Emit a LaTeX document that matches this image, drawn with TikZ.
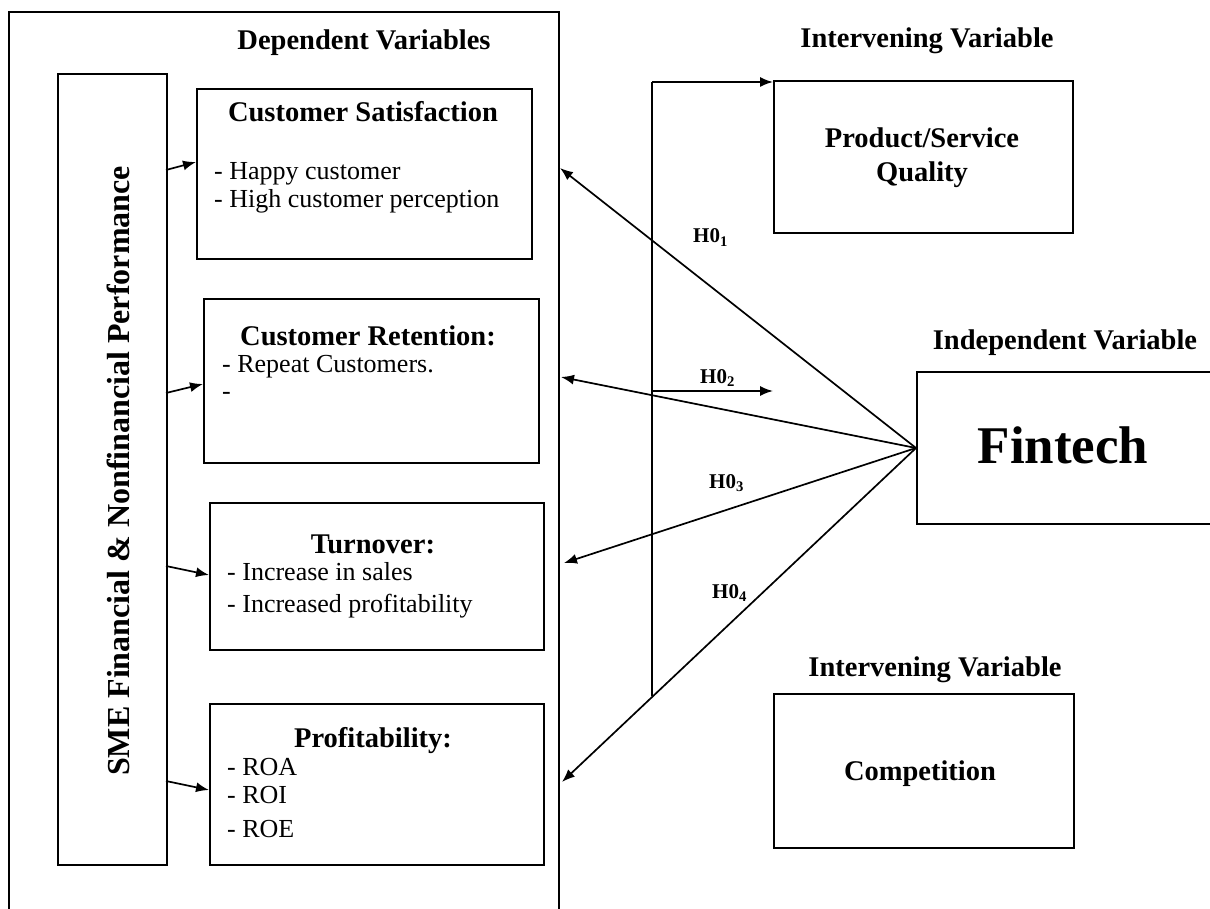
\documentclass[tikz,border=0pt]{standalone}
\usepackage{fontspec}
\setmainfont{Liberation Serif}
\usetikzlibrary{arrows.meta}
\begin{document}
\begin{tikzpicture}[x=1pt,y=1pt,
  frame/.style={line width=1.9pt},
  vbox/.style={draw, line width=2pt, anchor=north west, inner sep=0pt},
  ttl/.style={font=\fontsize{28.5}{33}\selectfont\bfseries, anchor=base, inner sep=0pt},
  itm/.style={font=\fontsize{26}{30}\selectfont, anchor=base west, inner sep=0pt},
  hyp/.style={font=\fontsize{21}{24}\selectfont\bfseries, anchor=base west, inner sep=0pt},
  conn/.style={line width=1.7pt, -{Latex[length=13pt,width=10pt]}},
  plainline/.style={line width=1.7pt}]
\useasboundingbox (0,0) rectangle (1210,-909);

% outer frame of dependent variables
\draw[frame] (9,-915) -- (9,-12) -- (559,-12) -- (559,-915);
\node[ttl] (dvlab) at (364,-50) {Dependent Variables};

% SME box
\node[vbox, minimum width=109pt, minimum height=791pt] (sme) at (57,-73) {};
\node[rotate=90, font=\fontsize{32}{36}\selectfont\bfseries, anchor=base, inner sep=0pt] (smet) at (129,-471) {SME Financial \& Nonfinancial Performance};

% Customer satisfaction
\node[vbox, minimum width=335pt, minimum height=170pt] (cs) at (196,-88) {};
\node[ttl] (cst) at (363,-122) {Customer Satisfaction};
\node[itm] (cs1) at (214,-180) {- Happy customer};
\node[itm] (cs2) at (214,-208) {- High customer perception};

% Customer retention
\node[vbox, minimum width=335pt, minimum height=164pt] (cr) at (203,-298) {};
\node[ttl] (crt) at (368,-345) {Customer Retention:};
\node[itm] (cr1) at (222,-372) {- Repeat Customers.};
\node[itm] (cr2) at (222,-399) {-};

% Turnover
\node[vbox, minimum width=334pt, minimum height=147pt] (to) at (209,-502) {};
\node[ttl] (tot) at (373,-553) {Turnover:};
\node[itm] (to1) at (227,-580) {- Increase in sales};
\node[itm] (to2) at (227,-612) {- Increased profitability};

% Profitability
\node[vbox, minimum width=334pt, minimum height=161pt] (pr) at (209,-703) {};
\node[ttl] (prt) at (373,-747) {Profitability:};
\node[itm] (pr1) at (227,-775) {- ROA};
\node[itm] (pr2) at (227,-803) {- ROI};
\node[itm] (pr3) at (227,-837) {- ROE};

% SME arrows
\coordinate (a1s) at (166,-170); \coordinate (a1e) at (196,-162);
\coordinate (a2s) at (166,-393); \coordinate (a2e) at (203,-384);
\coordinate (a3s) at (166,-566); \coordinate (a3e) at (209,-575);
\coordinate (a4s) at (166,-781); \coordinate (a4e) at (209,-790);
\draw[conn] (a1s) -- (a1e);
\draw[conn] (a2s) -- (a2e);
\draw[conn] (a3s) -- (a3e);
\draw[conn] (a4s) -- (a4e);

% Intervening variable (top)
\node[ttl] (iv1) at (927,-48) {Intervening Variable};
\node[vbox, minimum width=299pt, minimum height=152pt] (pq) at (773,-80) {};
\node[ttl] (pqt1) at (922,-148) {Product/Service};
\node[ttl] (pqt2) at (922,-182) {Quality};

% Independent variable
\node[ttl] (ivl) at (1065,-349) {Independent Variable};
\node[vbox, minimum width=296pt, minimum height=152pt] (fin) at (916,-371) {};
\node[font=\fontsize{53}{60}\selectfont\bfseries, anchor=base, inner sep=0pt] (fint) at (1063,-463) {Fintech};

% Intervening variable (bottom)
\node[ttl] (iv2) at (935,-676) {Intervening Variable};
\node[vbox, minimum width=300pt, minimum height=154pt] (co) at (773,-693) {};
\node[ttl] (cot) at (920,-780) {Competition};

% hypothesis arrows
\coordinate (o1) at (560,-168);
\coordinate (o2) at (561,-377);
\coordinate (o3) at (564,-563);
\coordinate (o4) at (562,-782);
\draw[conn] (fin.west) -- (o1);
\draw[conn] (fin.west) -- (o2);
\draw[conn] (fin.west) -- (o3);
\draw[conn] (fin.west) -- (o4);

% mediator line
\coordinate (mt) at (652,-82);
\coordinate (mb) at (652,-696);
\coordinate (m2) at (652,-391);
\coordinate (m2e) at (773,-391);
\draw[plainline] (mb) -- (mt);
\draw[conn] (mt) -- (mt -| pq.west);
\draw[conn] (m2) -- (m2e);

% labels
\node[hyp] (h1) at (693,-243) {H0\textsubscript{1}};
\node[hyp] (h2) at (700,-383) {H0\textsubscript{2}};
\node[hyp] (h3) at (709,-488) {H0\textsubscript{3}};
\node[hyp] (h4) at (712,-598) {H0\textsubscript{4}};
\end{tikzpicture}
\end{document}
